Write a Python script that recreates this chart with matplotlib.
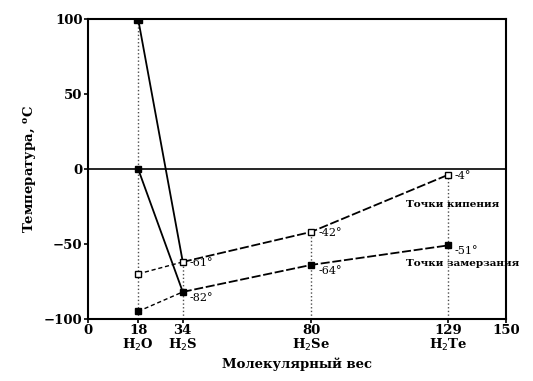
import matplotlib.pyplot as plt

# молекулярный вес и температуры
mass = [18, 34, 80, 129]
names = ["H$_2$O", "H$_2$S", "H$_2$Se", "H$_2$Te"]
boil = [100, -62, -42, -4]
freeze = [0, -82, -64, -51]
boil_extra = -70   # экстраполяция для H2O
freeze_extra = -95
boil_lbl = ["", "-61°", "-42°", "-4°"]
freeze_lbl = ["", "-82°", "-64°", "-51°"]

plt.rcParams['font.family'] = ['DejaVu Serif']
fig = plt.figure(figsize=(5.33, 3.81), dpi=100)
ax = fig.add_axes([0.165, 0.163, 0.785, 0.787])

# вертикальные пунктиры
ax.plot([mass[0], mass[0]], [-100, boil[0]], color='0.3', ls=':', lw=1)
for m, b in zip(mass[1:], boil[1:]):
    ax.plot([m, m], [-100, b], color='0.3', ls=':', lw=1)

ax.axhline(0, color='k', lw=1.2)

# H2O -> H2S сплошные
ax.plot(mass[:2], boil[:2], color='k', lw=1.3)
ax.plot(mass[:2], freeze[:2], color='k', lw=1.3)
# остальные штриховые
ax.plot(mass[1:], boil[1:], color='k', lw=1.3, ls=(0, (5, 1.5)))
ax.plot(mass[1:], freeze[1:], color='k', lw=1.3, ls=(0, (5, 1.5)))
# экстраполяция
ax.plot([mass[0], mass[1]], [boil_extra, boil[1]], color='k', lw=1, ls=(0, (3, 2)))
ax.plot([mass[0], mass[1]], [freeze_extra, freeze[1]], color='k', lw=1, ls=(0, (3, 2)))

ax.plot(mass[1:], boil[1:], 's', mfc='white', mec='k', ms=5, mew=1)
ax.plot([mass[0]], [boil_extra], 's', mfc='white', mec='k', ms=5, mew=1)
ax.plot(mass, freeze, 's', color='k', ms=5)
ax.plot([mass[0]], [boil[0]], 's', color='k', ms=6)
ax.plot([mass[0]], [freeze_extra], 's', color='k', ms=5)

for m, b, t in zip(mass, boil, boil_lbl):
    if t:
        ax.text(m + 2.5, b - 1, t, fontsize=8, va='center', ha='left')
for m, f, t in zip(mass, freeze, freeze_lbl):
    if t:
        ax.text(m + 2.5, f - 4, t, fontsize=8, va='center', ha='left')

ax.text(114, -24, "Точки кипения", fontsize=7.5, fontweight='bold', va='center')
ax.text(114, -63, "Точки замерзания", fontsize=7.5, fontweight='bold', va='center', clip_on=False)

ax.set_xlim(0, 150)
ax.set_ylim(-100, 100)
ax.set_yticks([-100, -50, 0, 50, 100])
ax.set_yticklabels(["−100", "−50", "0", "50", "100"], fontsize=9.5, fontweight='bold')
ax.set_xticks([0] + mass + [150])
ax.set_xticklabels(["0"] + ["%d\n%s" % (m, n) for m, n in zip(mass, names)] + ["150"],
                   fontsize=9.5, fontweight='bold', linespacing=0.95)
ax.tick_params(direction='out', length=3, width=1.2, pad=1)
for s in ax.spines.values():
    s.set_linewidth(1.5)

ax.set_ylabel("Температура, $^\\mathregular{o}$C", fontsize=9.5, fontweight='bold')
ax.set_xlabel("Молекулярный вес", fontsize=9.5, fontweight='bold', labelpad=3)

plt.savefig("out.png", dpi=100)
